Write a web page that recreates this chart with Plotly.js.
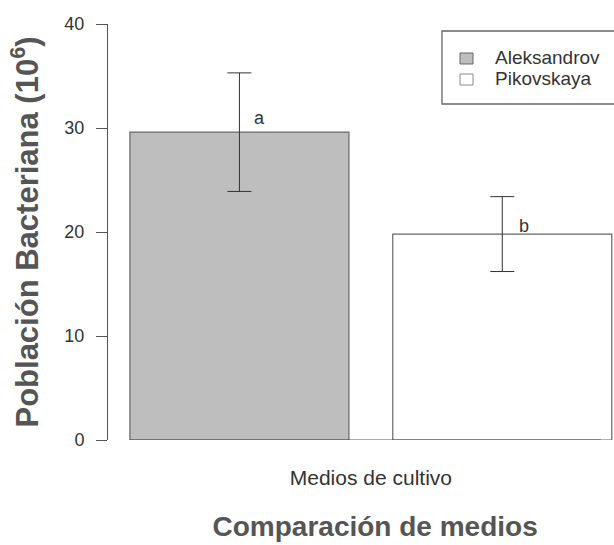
<!DOCTYPE html>
<html>
<head>
<meta charset="utf-8">
<script src="https://cdn.plot.ly/plotly-3.0.1.min.js"></script>
<style>
  html, body { margin: 0; padding: 0; background: #fff; }
  #chart { width: 614px; height: 545px; }
</style>
</head>
<body>
<div id="chart"></div>
<script>
// Bacterial population (10^6) by culture medium, mean ± error
const media = ["Aleksandrov", "Pikovskaya"];
const barPositions = [0.7, 1.9];          // barplot slots: width 1, spacing 0.2
const population = [29.6, 19.8];
const populationError = [5.7, 3.6];
const groupLetters = ["a", "b"];
const letterPositions = [0.79, 2.0];
const letterHeights = [31.0, 20.6];
const yTicks = [0, 10, 20, 30, 40];
const xTickText = ["Medios de cultivo"];
const xTickPos = [1.3];

const fills = ["#bebebe", "#ffffff"];
const swatchLines = ["#666666", "#8a8a8a"];
const font = "Liberation Sans, Arial, sans-serif";

// plot area in pixels (margins below) and helpers to place the key
const W = 614, H = 545, L = 108, T = 24, B = 105, R = 0;
const plotW = W - L - R, plotH = H - T - B;
const px = v => (v - L) / plotW;
const py = v => (H - B - v) / plotH;

const traces = media.map((name, i) => ({
  type: "bar",
  name: name,
  x: [barPositions[i]],
  y: [population[i]],
  width: 1,
  marker: { color: fills[i], line: { color: "#666666", width: 1.2 } },
  error_y: {
    type: "data",
    array: [populationError[i]],
    visible: true,
    color: "#333333",
    thickness: 1,
    width: 12
  },
  hoverinfo: "y",
  showlegend: false
}));

// boxed key in the top-right corner
const keyRowY = [57, 78];
const keyShapes = [{
  type: "rect", xref: "paper", yref: "paper",
  x0: px(442), x1: px(625), y0: py(104), y1: py(31),
  line: { color: "#666666", width: 1.3 }, fillcolor: "#ffffff", layer: "above"
}].concat(media.map((m, i) => ({
  type: "rect", xref: "paper", yref: "paper",
  x0: px(460), x1: px(473),
  y0: py(keyRowY[i] + 7), y1: py(keyRowY[i] - 4),
  line: { color: swatchLines[i], width: 1 }, fillcolor: fills[i], layer: "above"
})));
const keyLabels = media.map((m, i) => ({
  xref: "paper", yref: "paper",
  x: px(493), y: py(keyRowY[i]),
  xanchor: "left", yanchor: "middle",
  text: m, showarrow: false,
  font: { family: font, size: 19, color: "#333333" }
}));

const layout = {
  width: W,
  height: H,
  margin: { l: L, r: R, t: T, b: B },
  paper_bgcolor: "#ffffff",
  plot_bgcolor: "#ffffff",
  font: { family: font, color: "#333333", size: 18 },
  barmode: "overlay",
  showlegend: false,
  title: {
    text: "<b>Comparación de medios</b>",
    font: { family: font, size: 28, color: "#555555" },
    xref: "container", yref: "container",
    x: 0.611, y: 0.034, xanchor: "center", yanchor: "middle"
  },
  xaxis: {
    range: [0.1, 2.41],
    showline: false,
    showgrid: false,
    zeroline: false,
    ticks: "",
    tickvals: xTickPos,
    ticktext: xTickText,
    ticklabelstandoff: 23,
    tickfont: { family: font, size: 21, color: "#333333" },
    fixedrange: true
  },
  yaxis: {
    range: [0, 40],
    tickvals: yTicks,
    showline: true,
    linecolor: "#555555",
    linewidth: 1,
    ticks: "outside",
    ticklen: 11,
    tickcolor: "#555555",
    ticklabelstandoff: 8,
    showgrid: false,
    zeroline: false,
    tickfont: { family: font, size: 18, color: "#333333" },
    title: {
      text: "<b>Población Bacteriana (10<sup>6</sup>)</b>",
      font: { family: font, size: 31, color: "#555555" },
      standoff: 16
    },
    fixedrange: true
  },
  shapes: [{
    type: "line", xref: "x", yref: "y",
    x0: 0.2, x1: 2.35, y0: 0, y1: 0,
    line: { color: "#555555", width: 1 }
  }].concat(keyShapes),
  annotations: groupLetters.map((t, i) => ({
    x: letterPositions[i], y: letterHeights[i],
    xref: "x", yref: "y",
    text: t, showarrow: false,
    font: { family: font, size: 18, color: "#333333" }
  })).concat(keyLabels)
};

Plotly.newPlot("chart", traces, layout, { displayModeBar: false, staticPlot: true });
</script>
</body>
</html>
